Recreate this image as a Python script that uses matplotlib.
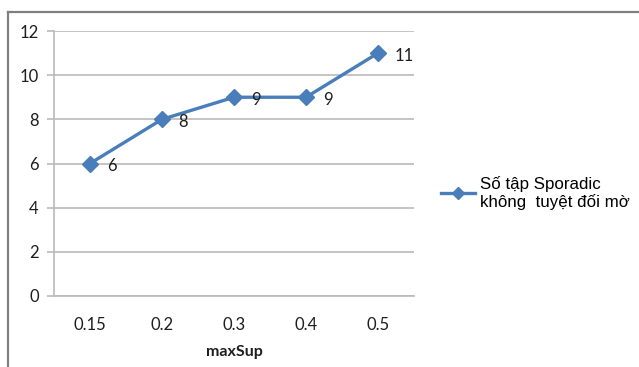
import matplotlib.pyplot as plt
from matplotlib.lines import Line2D

categories = ["0.15", "0.2", "0.3", "0.4", "0.5"]
values = [6, 8, 9, 9, 11]
series_name = "Số tập Sporadic\nkhông  tuyệt đối mờ"
y_ticks = [0, 2, 4, 6, 8, 10, 12]

W, H = 639, 367
fig = plt.figure(figsize=(W / 100, H / 100), dpi=100)
fig.patch.set_facecolor("white")

ax = fig.add_axes([54 / W, 1 - 296 / H, 360 / W, 265 / H])

line_color = "#4A7EBB"
grid_color = "#BABABA"
text_color = "#1E1E1E"
xs = list(range(len(categories)))

ax.plot(xs, values, color=line_color, lw=2.4, marker="D", ms=8,
        markerfacecolor=line_color, markeredgecolor=line_color,
        label=series_name, zorder=3)

for x, v in zip(xs, values):
    ax.annotate(str(v), (x, v), xytext=(12, -2), textcoords="offset points",
                ha="left", va="center", fontsize=12, family="Lato",
                color=text_color)

ax.set_xlim(-0.5, len(categories) - 0.5)
ax.set_ylim(0, 12)
ax.set_yticks(y_ticks)
ax.set_xticks(xs)
ax.set_xticklabels(categories)
ax.yaxis.grid(True, color=grid_color, lw=1.2)
ax.set_axisbelow(True)

for s in ["top", "right"]:
    ax.spines[s].set_visible(False)
ax.spines["left"].set_color(grid_color)
ax.spines["bottom"].set_color(grid_color)
ax.spines["left"].set_linewidth(1.2)
ax.spines["bottom"].set_linewidth(1.2)

ax.tick_params(axis="y", length=5, width=1.2, color=grid_color, pad=6,
               labelsize=12, labelcolor=text_color)
ax.tick_params(axis="x", length=0, pad=15, labelsize=12, labelcolor=text_color)
for lbl in ax.get_xticklabels() + ax.get_yticklabels():
    lbl.set_family("Lato")

ax.set_xlabel("maxSup", fontsize=11.5, fontweight="bold", family="Lato",
              labelpad=9, color=text_color)

handle = Line2D([], [], color=line_color, lw=2.4, marker="D", ms=6,
                markerfacecolor=line_color, markeredgecolor=line_color)
fig.legend([handle], [series_name], loc="center left",
           bbox_to_anchor=(438 / W, 1 - 193 / H), frameon=False,
           prop={"family": "Liberation Sans", "size": 12.2},
           handlelength=2.0, handletextpad=0.25, borderpad=0.2,
           borderaxespad=0.0)

# outer chart frame (top and left edges)
fig.add_artist(Line2D([8 / W, 1], [1 - 12 / H, 1 - 12 / H],
                      transform=fig.transFigure, color="#808080", lw=1.6))
fig.add_artist(Line2D([8 / W, 8 / W], [0, 1 - 12 / H],
                      transform=fig.transFigure, color="#808080", lw=1.6))

fig.savefig("out.png", dpi=100, facecolor="white")
